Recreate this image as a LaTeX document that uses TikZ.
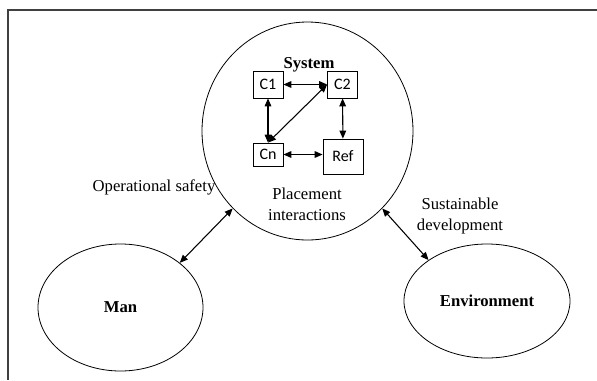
\documentclass[tikz,border=0pt]{standalone}
\usepackage{fontspec}
\setmainfont{Liberation Serif}
\newfontfamily\boxfont{Carlito}
\usepackage{tikz}
\usetikzlibrary{arrows.meta}
\usetikzlibrary{shapes.geometric}

\begin{document}
\begin{tikzpicture}[x=0.75pt,y=-0.75pt,
	blob/.style={draw,ellipse,inner sep=0pt,line width=0.6pt},
	part/.style={draw,rectangle,inner sep=0pt,line width=0.6pt,font=\boxfont\fontsize{12}{14}\selectfont},
	link/.style={{Triangle[length=6pt,width=5pt]}-{Triangle[length=6pt,width=5pt]},line width=0.8pt},
	lbl/.style={font=\fontsize{12.5}{16}\selectfont,align=center},
	bold/.style={font=\fontsize{12.5}{16}\selectfont\bfseries}]
	
	\useasboundingbox (0,0) rectangle (597,380);
	
	% Frame
	\draw [black!75,line width=1.1pt] (597,10) -- (8,10) -- (8,380);
	
	% Level 0
	\node [blob,minimum width=158.25pt,minimum height=163.5pt] (sys) at (307.5,131) {};
	\node [bold] (sysname) at (309,65) {System};
	\node [lbl] (place) at (307,204.5) {Placement\\interactions};
	
	% Level 1
	\node [part,minimum width=22.5pt,minimum height=20.25pt] (C1) at (268,84.5) {C1};
	\node [part,minimum width=22.5pt,minimum height=20.25pt] (C2) at (342.5,84.5) {C2};
	\node [part,minimum width=22.5pt,minimum height=17.25pt] (Cn) at (268,154.5) {Cn};
	\node [part,minimum width=30pt,minimum height=26.25pt] (Ref) at (343,156.5) {Ref};
	
	\draw [link] (C1) -- (C2);
	\draw [link] (C1) -- (Cn);
	\draw [link] (C2) -- (Ref);
	\draw [link] (Cn.east) -- (Cn.east -| Ref.west);
	\draw [link] (C2.west) -- (Cn.north);
	
	% Level 2
	\node [blob,bold,minimum width=123.75pt,minimum height=95.25pt] (man) at (120.5,307.5) {Man};
	\node [blob,bold,minimum width=124.5pt,minimum height=85.5pt] (env) at (487,301) {Environment};
	
	\node [lbl] (safety) at (154,187) {Operational safety};
	\node [lbl] (sustain) at (460,216) {Sustainable\\development};
	
	% Arrows
	\draw [link] (man.37) -- (sys.226);
	\draw [link] (env.145) -- (sys.314);
	
\end{tikzpicture}
\end{document}
